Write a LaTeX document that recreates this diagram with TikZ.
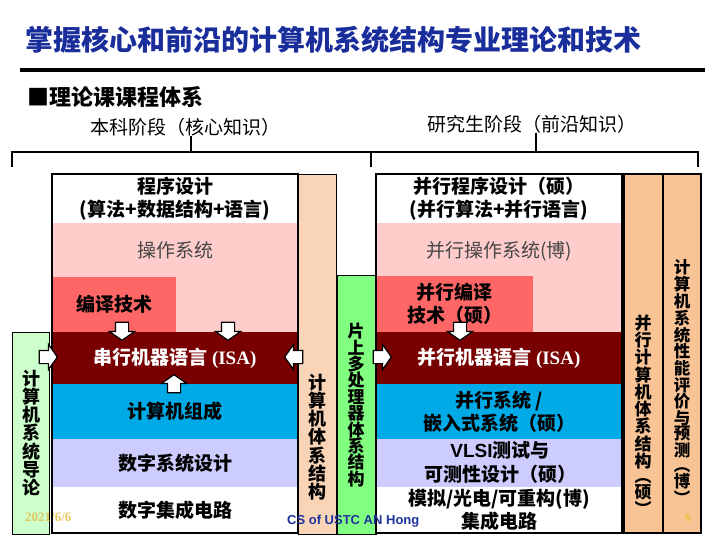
\documentclass[tikz,border=0pt]{standalone}
\usepackage{fontspec}
\setmainfont{Noto Sans CJK SC}
\newfontfamily\tnr{Liberation Serif}
\newfontfamily\arial{Liberation Sans}
\usetikzlibrary{shapes.arrows, positioning}
\definecolor{titleblue}{RGB}{25, 45, 155}
\definecolor{ospink}{RGB}{255, 204, 204}
\definecolor{cmpred}{RGB}{255, 102, 102}
\definecolor{isared}{RGB}{120, 0, 0}
\definecolor{orgblue}{RGB}{0, 170, 230}
\definecolor{dsdlav}{RGB}{204, 204, 255}
\definecolor{introgreen}{RGB}{204, 255, 204}
\definecolor{chipgreen}{RGB}{128, 255, 128}
\definecolor{archpeach}{RGB}{250, 212, 182}
\definecolor{gradpeach}{RGB}{248, 196, 150}
\definecolor{osgray}{RGB}{70, 70, 70}
\definecolor{dateyellow}{RGB}{228, 200, 90}
\definecolor{footblue}{RGB}{30, 50, 160}
\definecolor{pageorange}{RGB}{240, 190, 60}
\tikzset{
  strip/.style={
    rectangle, anchor=north west,
    minimum width=246pt, inner sep=0pt, outer sep=0pt,
    align=center, font=\bfseries\fontsize{19}{23}\selectfont
  },
  lbl/.style={
    inner sep=0pt, align=center,
    font=\fontsize{19}{23}\selectfont
  },
  column/.style={
    rectangle, anchor=north west,
    minimum width=38pt, inner sep=0pt, outer sep=0pt,
    draw=black, line width=1pt
  },
  vtext/.style={
    inner sep=0pt, align=center,
    font=\bfseries\fontsize{18}{16.5}\selectfont
  },
  stage/.style={
    inner sep=0pt, font=\fontsize{19}{19}\selectfont
  },
  boxline/.style={draw=black, line width=2pt},
  bracket/.style={draw=black, line width=1.5pt},
  blockarrow/.style={
    single arrow, draw=black, fill=white, line width=1.2pt,
    inner sep=6pt, minimum height=18pt,
    single arrow head extend=6pt, single arrow tip angle=110
  }
}

\begin{document}
\begin{tikzpicture}[x=1pt, y=-1pt]
  \useasboundingbox (0,0) rectangle (720,540);

  % ── Title ──────────────────────────────────────────────────
  \node[anchor=west, inner sep=0pt, text=titleblue,
        font=\bfseries\fontsize{28}{28}\selectfont] (title) at (25,40)
        {掌握核心和前沿的计算机系统结构专业理论和技术};
  \draw[line width=4pt] (20,70) -- (705,70);
  \node[anchor=west, inner sep=0pt,
        font=\bfseries\fontsize{22}{22}\selectfont] (theory) at (27,97)
        {■理论课课程体系};

  % ── Stage labels and bracket ───────────────────────────────
  \node[stage] (ug)   at (185,127) {本科阶段（核心知识）};
  \node[stage] (grad) at (532,124) {研究生阶段（前沿知识）};
  \coordinate (brkL) at (12,152);
  \coordinate (brkM) at (371,152);
  \coordinate (brkR) at (698,152);
  \draw[bracket] ([xshift=6pt]ug.south) -- ([xshift=6pt]ug.south |- brkL);
  \draw[bracket] ([xshift=4pt]grad.south) -- ([xshift=4pt]grad.south |- brkR);
  \draw[bracket] (brkL) ++(0,15) -- (brkL) -- (brkR) -- ++(0,15);
  \draw[bracket] (brkM) -- ++(0,15);

  % ── Side columns ───────────────────────────────────────────
  \node[column, fill=introgreen, minimum width=37pt, minimum height=202pt] (intro) at (12,332) {};
  \node[column, fill=archpeach,  minimum height=359pt] (arch)  at (298,175) {};
  \node[column, fill=chipgreen,  minimum width=39pt, minimum height=259pt] (chip) at (337,275) {};
  \node[column, fill=gradpeach,  minimum width=39pt, minimum height=359pt, line width=1.8pt] (parch) at (624,174) {};
  \node[column, fill=gradpeach,  minimum width=38pt, minimum height=359pt, line width=1.8pt] (perf)  at (663,174) {};

  % ── Undergraduate stack ────────────────────────────────────
  \node[strip, fill=white, minimum height=49pt] (prog) at (52,174)
        {程序设计\\(算法+数据结构+语言)};
  \node[strip, fill=ospink, minimum height=109pt, below=0pt of prog] (os) {};
  \node[lbl, text=osgray, below=18pt of os.north] (ostxt) {操作系统};
  \node[strip, fill=cmpred, minimum width=124pt, minimum height=55pt] (comp) at (52,277) {编译技术};
  \node[strip, fill=isared, text=white, minimum height=52pt, below=0pt of os] (isa)
        {串行机器语言 {\tnr (ISA)}};
  \node[strip, fill=orgblue, minimum height=55pt, below=0pt of isa] (org) {计算机组成};
  \node[strip, fill=dsdlav,  minimum height=48pt, below=0pt of org] (dsd) {数字系统设计};
  \node[strip, fill=white,   minimum height=46pt, below=0pt of dsd] (dic) {数字集成电路};
  \node[anchor=west, inner sep=0pt, text=dateyellow,
        font=\tnr\bfseries\fontsize{13}{13}\selectfont] (date) at (25,517) {2021/6/6};
  \draw[boxline] (prog.north west) rectangle (dic.south east);

  % ── Graduate stack ─────────────────────────────────────────
  \node[strip, fill=white, minimum height=49pt] (pprog) at (376,174)
        {并行程序设计（硕）\\(并行算法+并行语言)};
  \node[strip, fill=ospink, minimum height=109pt, below=0pt of pprog] (pos) {};
  \node[lbl, text=osgray, below=18pt of pos.north] (postxt) {并行操作系统(博)};
  \node[strip, fill=cmpred, minimum width=157pt, minimum height=56pt] (pcomp) at (376,276)
        {并行编译\\技术（硕）};
  \node[strip, fill=isared, text=white, minimum height=52pt, below=0pt of pos] (pisa)
        {并行机器语言 {\tnr (ISA)}};
  \node[strip, fill=orgblue, minimum height=55pt, below=0pt of pisa] (psys)
        {并行系统 /\\嵌入式系统（硕）};
  \node[strip, fill=dsdlav,  minimum height=48pt, below=0pt of psys] (pvlsi) {};
  \node[strip, fill=white,   minimum height=46pt, below=0pt of pvlsi] (pic)
        {\fontsize{19}{26}\selectfont 模拟/光电/可重构(博)\\集成电路};
  \node[lbl, font=\bfseries\fontsize{19}{24}\selectfont] (pvlsitxt) at (500,462)
        {{\arial VLSI}测试与\\可测性设计（硕）};
  \draw[boxline] (pprog.north west) rectangle (pic.south east);

  % ── Block arrows into ISA ──────────────────────────────────
  \node[blockarrow, shape border rotate=270] (comp2isa)  at (122,329) {};
  \node[blockarrow, shape border rotate=270] (os2isa)    at (228,329) {};
  \node[blockarrow, shape border rotate=90]  (org2isa)   at (174,386) {};
  \node[blockarrow, shape border rotate=0]   (intro2isa) at (46,357) {};
  \node[blockarrow, shape border rotate=180] (arch2isa)  at (296,357) {};
  \node[blockarrow, shape border rotate=0]   (chip2pisa) at (380,357) {};
  \node[blockarrow, shape border rotate=270] (pcomp2pisa) at (460,329) {};

  % ── Vertical column texts ──────────────────────────────────
  \node[vtext] (introtxt) at (31,433) {计\\算\\机\\系\\统\\导\\论};
  \node[vtext] (archtxt)  at (317,437) {计\\算\\机\\体\\系\\结\\构};
  \node[vtext, font=\bfseries\fontsize{17}{16.4}\selectfont] (chiptxt) at (356,405)
        {片\\上\\多\\处\\理\\器\\体\\系\\结\\构};
  \node[vtext, font=\bfseries\fontsize{17}{15.6}\selectfont] (parchtxt) at (643,415)
        {并\\行\\计\\算\\机\\体\\系\\结\\构\\︵\\硕\\︶};
  \node[vtext, font=\bfseries\fontsize{16.5}{15.2}\selectfont] (perftxt) at (682,382)
        {计\\算\\机\\系\\统\\性\\能\\评\\价\\与\\预\\测\\︵\\博\\︶};

  % ── Footer ─────────────────────────────────────────────────
  \node[anchor=west, inner sep=0pt, text=footblue,
        font=\arial\bfseries\fontsize{13}{13}\selectfont] (foot) at (287,521) {CS of USTC AN Hong};
  \node[inner sep=0pt, text=pageorange,
        font=\tnr\bfseries\fontsize{12}{12}\selectfont] (page) at (688,518) {6};

\end{tikzpicture}
\end{document}
